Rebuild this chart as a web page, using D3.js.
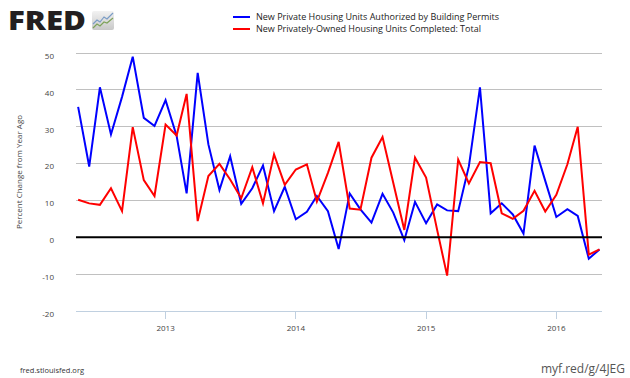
<!DOCTYPE html>
<html><head><meta charset="utf-8">
<script src="https://cdn.jsdelivr.net/npm/d3@7"></script>
<style>
html,body{margin:0;padding:0;background:#fff;}
svg{display:block;}
text{font-family:"Open Sans","DejaVu Sans",sans-serif;}
</style></head>
<body><svg id="c" width="630" height="378"></svg>
<script>
// ---- data ----
const startMonth = "2012-05";
const months = d3.range(49).map(i => d3.timeMonth.offset(new Date(2012, 4, 1), i));
const permits = [35.4,19.2,40.7,27.9,38.1,49.0,32.4,30.2,37.2,27.5,11.9,44.6,25.2,12.8,22.0,9.1,13.3,19.5,7.1,13.7,4.9,6.9,11.2,7.1,-3.2,11.9,7.6,4.0,11.8,6.7,-0.8,9.6,3.8,8.9,7.3,7.1,19.3,40.7,6.5,9.2,6.2,1.0,24.9,15.3,5.5,7.6,5.8,-5.8,-3.3];
const completions = [10.2,9.2,8.8,13.3,7.1,29.9,15.5,11.2,30.6,27.6,38.9,4.4,16.6,19.9,15.7,10.6,19.0,9.2,22.5,14.2,18.4,19.8,9.7,17.5,25.9,7.8,7.5,21.6,27.2,14.8,2.0,21.6,16.2,2.0,-10.4,21.1,14.6,20.4,20.1,6.5,5.0,7.2,12.6,7.0,11.5,19.8,30.0,-4.7,-3.3];
const seriesNames = ["New Private Housing Units Authorized by Building Permits","New Privately-Owned Housing Units Completed: Total"];
const seriesColors = ["#0000ff","#ff0000"];
const yTicks = [-20,-10,0,10,20,30,40,50];
const xTickYears = [2013,2014,2015,2016];

// ---- layout ----
const svg = d3.select("#c");
const L = 76, R = 602, T = 53, B = 311;
const x = d3.scaleTime().domain([new Date(2012,3,25), new Date(2016,4,8)]).range([L, R]);
const y = d3.scaleLinear().domain([-20, 50]).range([B, T]);

// grid
const g = svg.append("g");
g.selectAll("line.grid").data(yTicks.filter(v => v !== 0 && v !== -20)).enter().append("line")
  .attr("x1", L).attr("x2", R).attr("y1", d => y(d)).attr("y2", d => y(d))
  .attr("stroke", "#c0c0c0").attr("stroke-width", 1).attr("shape-rendering","crispEdges");
// bottom axis line
g.append("line").attr("x1", L).attr("x2", R).attr("y1", y(-20)).attr("y2", y(-20))
  .attr("stroke", "#c0d0e0").attr("stroke-width", 1).attr("shape-rendering","crispEdges");
// y labels
g.selectAll("text.yl").data(yTicks).enter().append("text")
  .attr("x", 54).attr("y", d => y(d) + 3).attr("dy", "0.35em")
  .attr("text-anchor", "end").attr("font-size", 8).attr("fill", "#444")
  .text(d => d);
// x ticks
const xt = xTickYears.map(yr => new Date(yr, 0, 1));
g.selectAll("line.xt").data(xt).enter().append("line")
  .attr("x1", d => x(d)).attr("x2", d => x(d)).attr("y1", B).attr("y2", B + 8)
  .attr("stroke", "#c0d0e0").attr("stroke-width", 1).attr("shape-rendering","crispEdges");
g.selectAll("text.xl").data(xt).enter().append("text")
  .attr("x", d => x(d)).attr("y", B + 17).attr("dy", "0.35em")
  .attr("text-anchor", "middle").attr("font-size", 8).attr("fill", "#444")
  .text(d => d3.timeFormat("%Y")(d));

// y title
svg.append("text").attr("transform", "translate(22,172) rotate(-90)")
  .attr("text-anchor", "middle").attr("font-size", 8).attr("fill", "#444")
  .text("Percent Change from Year Ago");

// series
const line = d3.line().x((d,i) => x(months[i])).y(d => y(d));
[permits, completions].forEach((s, k) => {
  svg.append("path").datum(s).attr("d", line).attr("fill", "none")
    .attr("stroke", seriesColors[k]).attr("stroke-width", 2).attr("stroke-linejoin", "miter");
});
// zero line
svg.append("line").attr("x1", L).attr("x2", R).attr("y1", y(0)).attr("y2", y(0))
  .attr("stroke", "#000").attr("stroke-width", 2);

// legend
seriesNames.forEach((n, k) => {
  const ly = 17 + k * 12;
  svg.append("line").attr("x1", 233).attr("x2", 250).attr("y1", ly).attr("y2", ly)
    .attr("stroke", seriesColors[k]).attr("stroke-width", 2);
  svg.append("text").attr("x", 256).attr("y", ly).attr("dy", "0.35em")
    .attr("font-size", 9).attr("fill", "#222").text(n);
});

// FRED logo
svg.append("text").attr("x", 8).attr("y", 30).attr("font-size", 27).attr("font-weight", 900)
  .attr("font-family", "'Liberation Sans','DejaVu Sans',sans-serif").attr("fill", "#231f20")
  .attr("textLength", 78).attr("lengthAdjust", "spacingAndGlyphs").text("FRED");
const icon = svg.append("g").attr("transform", "translate(92,11)");
const grad = svg.append("defs").append("linearGradient").attr("id","ig").attr("x1",0).attr("y1",0).attr("x2",0).attr("y2",1);
grad.append("stop").attr("offset","0%").attr("stop-color","#f2f2f2");
grad.append("stop").attr("offset","100%").attr("stop-color","#c8c8c8");
icon.append("rect").attr("width", 22).attr("height", 19).attr("rx", 2).attr("fill", "url(#ig)");
icon.append("polyline").attr("points", "1,13 5,9 8,11 12,6 15,8 21,2").attr("fill","none").attr("stroke","#7a9cc6").attr("stroke-width",1.2);
icon.append("polyline").attr("points", "1,17 5,13 8,15 12,11 15,12 21,7").attr("fill","none").attr("stroke","#7ea35a").attr("stroke-width",1.2);

// footer
svg.append("text").attr("x", 20).attr("y", 370).attr("dy", "0.35em").attr("font-size", 7.5)
  .attr("fill", "#333").text("fred.stlouisfed.org");
svg.append("text").attr("x", 625).attr("y", 369).attr("dy", "0.35em").attr("text-anchor", "end")
  .attr("font-size", 12).attr("fill", "#555").text("myf.red/g/4JEG");
</script></body></html>
